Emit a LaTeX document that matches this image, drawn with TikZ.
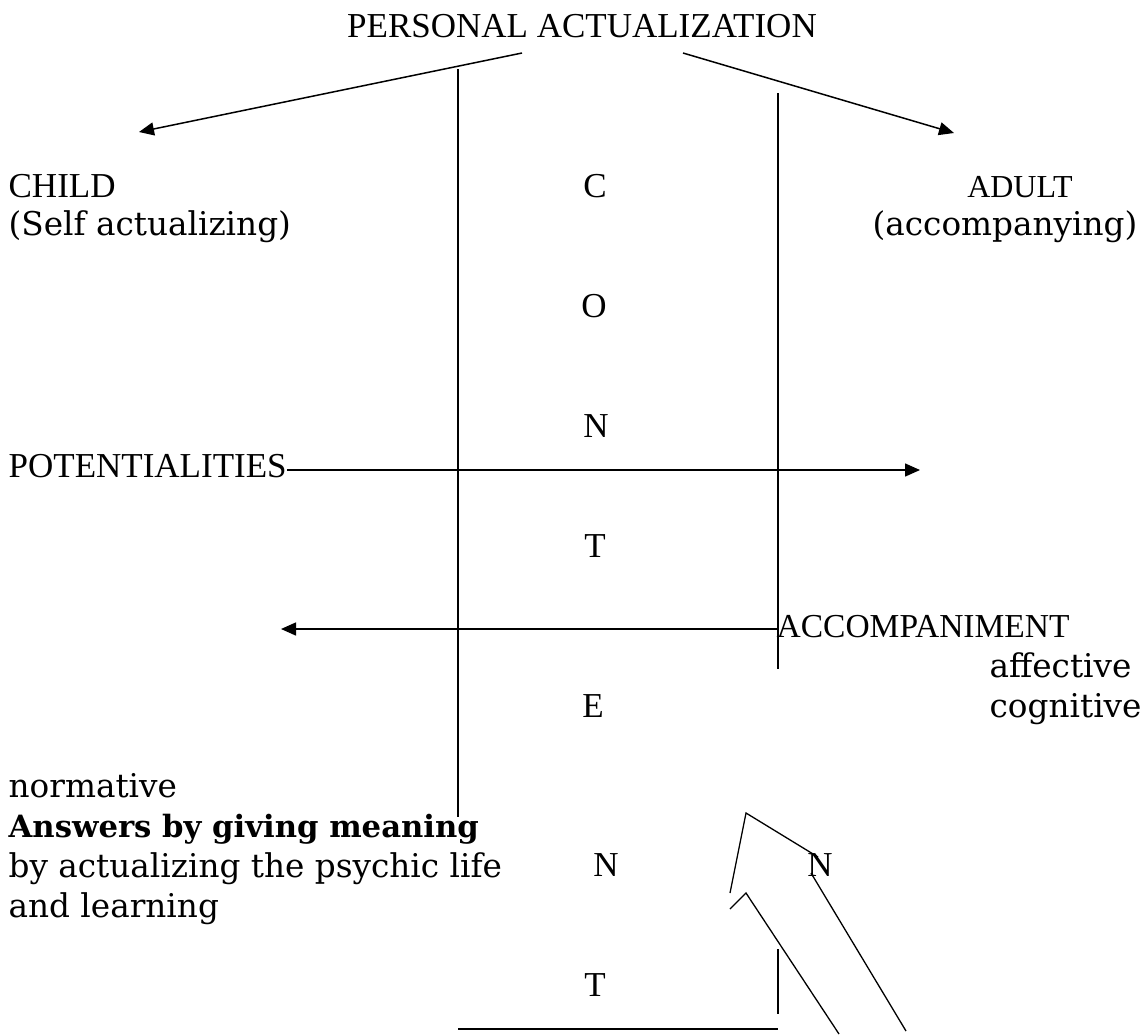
\documentclass[tikz,border=0pt]{standalone}
\usepackage{fontspec}
\setmainfont{Liberation Serif}
\newfontfamily\bodyfont{DejaVu Serif}
\usetikzlibrary{arrows.meta}

\begin{document}
\begin{tikzpicture}[x=1pt, y=-1pt, >={Triangle[length=15pt,width=13pt]},
			line width=1.3pt,
			caps/.style={font=\fontsize{35}{40}\selectfont, inner sep=0pt},
			body/.style={font=\bodyfont\fontsize{32.7}{40}\selectfont, inner sep=0pt},
			letter/.style={caps, anchor=base}]
			\useasboundingbox (0,0) rectangle (1147,1034);

			%Titulo e os dois lados
			\node[caps, anchor=base]       (pa)       at (582,37)  {PERSONAL ACTUALIZATION};
			\node[caps, anchor=base west]  (child)    at (8,197)   {CHILD};
			\node[body, anchor=base west]  (childsub) at (8,235)   {(Self actualizing)};
			\node[caps, anchor=base, font=\fontsize{32}{40}\selectfont] (adult) at (1020,197) {ADULT};
			\node[body, anchor=base]       (adultsub) at (1005,235) {(accompanying)};

			%C O N T E N T
			\node[letter] (c)  at (595,197) {C};
			\node[letter] (o)  at (594,317) {O};
			\node[letter] (n1) at (596,437) {N};
			\node[letter] (t1) at (595,557) {T};
			\node[letter] (e)  at (593,717) {E};
			\node[letter] (n2) at (606,876) {N};
			\node[letter] (t2) at (595,996) {T};
			\node[letter] (nx) at (820,876) {N};

			\node[caps, anchor=base west] (pot) at (8,477)   {POTENTIALITIES};
			\node[caps, anchor=base west, font=\fontsize{33.5}{40}\selectfont] (acc) at (776,637) {ACCOMPANIMENT};
			\node[body, anchor=base west] (aff) at (989,677) {affective};
			\node[body, anchor=base west] (cog) at (989,717) {cognitive};

			\node[body, anchor=base west] (norm) at (8,797) {normative};
			\node[body, anchor=base west, font=\bodyfont\bfseries\fontsize{30.7}{40}\selectfont] (ans) at (8,837) {Answers by giving meaning};
			\node[body, anchor=base west] (psy)  at (8,877) {by actualizing the psychic life};
			\node[body, anchor=base west] (lrn)  at (8,917) {and learning};

			%Pontas soltas
			\coordinate (paL)   at (522,53);
			\coordinate (paR)   at (683,53);
			\coordinate (chtip) at (139,132);
			\coordinate (adtip) at (954,133);
			\coordinate (potL)  at (287,470);
			\coordinate (potR)  at (920,470);
			\coordinate (accR)  at (778,629);
			\coordinate (accL)  at (281,629);
			\coordinate (v1a)   at (458,69);
			\coordinate (v1b)   at (458,817);
			\coordinate (v2a)   at (778,93);
			\coordinate (v2b)   at (778,669);
			\coordinate (v3a)   at (778,949);
			\coordinate (v3b)   at (778,1014);
			\coordinate (hbL)   at (458,1029);
			\coordinate (hbR)   at (778,1029);

			\path[->, line width=1.5pt] (paL)  edge (chtip)
			          (paR)  edge (adtip)
			          (potL) edge (potR)
			          (accR) edge (accL);

			\draw (v1a) -- (v1b);
			\draw (v2a) -- (v2b);
			\draw (v3a) -- (v3b);
			\draw (hbL) -- (hbR);

			%Seta grande
			\coordinate (ap1) at (746,813);
			\coordinate (ap2) at (746,893);
			\draw (730,893) -- (ap1) -- (818,857);
			\draw (811,873) -- (906,1031);
			\draw (730,909) -- (ap2) -- (839,1034);
		\end{tikzpicture}
\end{document}
